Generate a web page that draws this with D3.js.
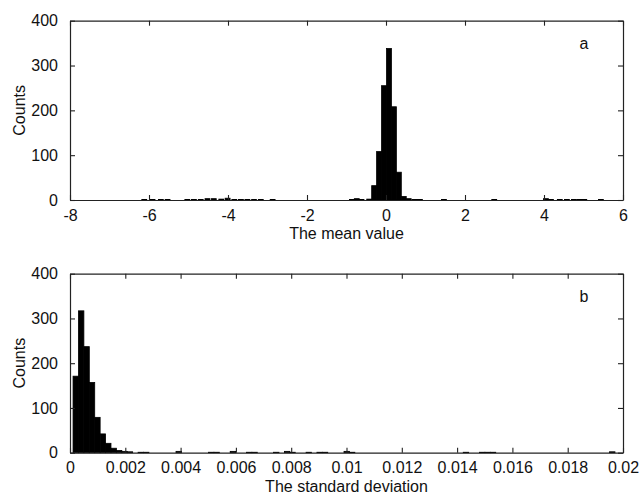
<!DOCTYPE html>
<html>
<head>
<meta charset="utf-8">
<script src="https://cdn.jsdelivr.net/npm/d3@7"></script>
<style>
  body { margin: 0; background: #fff; }
  text { font-family: "Liberation Sans", Arial, sans-serif; fill: #111; }
</style>
</head>
<body>
<svg id="chart" width="639" height="496"></svg>
<script>
// (a) Histogram of the mean values: bin centres and counts
const meanBinWidth = 0.125;
const meanCenters = [-6.12, -5.91, -5.70, -5.53, -5.03, -4.86, -4.69, -4.52, -4.36, -4.17, -4.01,
  -3.84, -3.67, -3.51, -3.34, -3.17, -2.87, -0.86, -0.74, -0.62, -0.425, -0.30, -0.175, -0.05,
  0.075, 0.2, 0.325, 0.45, 0.575, 0.72, 0.86, 1.47, 2.74, 4.05, 4.18, 4.40, 4.58, 4.76, 4.90, 5.02, 5.44];
const meanCounts = [1, 1, 1, 1, 1, 1, 1, 3, 3, 2, 4,
  1, 1, 1, 1, 1, 1, 1, 3, 1, 2, 32, 108, 255,
  338, 208, 62, 8, 3, 1, 1, 1, 1, 3, 1, 1, 1, 1, 1, 1, 1];
const meanTicks = [-8, -6, -4, -2, 0, 2, 4, 6];
const meanDomain = [-8, 6];

// (b) Histogram of the standard deviations: bin centres and counts
const sdBinWidth = 0.000196;
const sdCenters = [0.000208, 0.000404, 0.0006, 0.000796, 0.000992, 0.001188, 0.001384, 0.00158,
  0.001776, 0.001972, 0.002168, 0.00256, 0.002756, 0.003932, 0.005108, 0.005304, 0.005892,
  0.00648, 0.006676, 0.00746, 0.007852, 0.008048, 0.008636, 0.009028, 0.009224, 0.010008,
  0.010204, 0.01432, 0.014908, 0.015104, 0.0153, 0.019612];
const sdCounts = [171, 317, 237, 157, 79, 42, 21, 10,
  5, 3, 2, 1, 1, 3, 1, 1, 3,
  1, 1, 1, 3, 1, 1, 1, 1, 3,
  1, 1, 1, 1, 1, 2];
const sdTicks = [0, 0.002, 0.004, 0.006, 0.008, 0.01, 0.012, 0.014, 0.016, 0.018, 0.02];
const sdTickLabels = ["0", "0.002", "0.004", "0.006", "0.008", "0.01", "0.012", "0.014", "0.016", "0.018", "0.02"];
const sdDomain = [0, 0.02];

const countTicks = [0, 100, 200, 300, 400];
const countDomain = [0, 400];

const svg = d3.select("#chart");
svg.append("rect").attr("width", 639).attr("height", 496).attr("fill", "#fff");

const panels = [
  { top: 20.7, bottom: 200, centers: meanCenters, counts: meanCounts, width: meanBinWidth,
    domain: meanDomain, ticks: meanTicks, tickLabels: meanTicks.map(String),
    xLabel: "The mean value", tag: "a", tagX: 4.9 },
  { top: 273.7, bottom: 452.7, centers: sdCenters, counts: sdCounts, width: sdBinWidth,
    domain: sdDomain, ticks: sdTicks, tickLabels: sdTickLabels,
    xLabel: "The standard deviation", tag: "b", tagX: 0.01843 }
];

const left = 70, right = 623, tickLen = 5;

panels.forEach(p => {
  const x = d3.scaleLinear().domain(p.domain).range([left, right]);
  const y = d3.scaleLinear().domain(countDomain).range([p.bottom, p.top]);
  const g = svg.append("g");

  // bars
  const bins = p.centers.map((c, i) => ({ c, n: p.counts[i] }));
  g.selectAll("rect.bar").data(bins).join("rect")
    .attr("class", "bar")
    .attr("x", d => x(d.c - p.width / 2))
    .attr("width", d => x(d.c + p.width / 2) - x(d.c - p.width / 2))
    .attr("y", d => y(d.n))
    .attr("height", d => y(0) - y(d.n))
    .attr("fill", "#000")
    .attr("stroke", "#000")
    .attr("stroke-width", 0.8);

  // axes (ticks drawn inward on all four sides)
  const axStyle = sel => {
    sel.select(".domain").attr("stroke", "#222").attr("stroke-width", 1.2);
    sel.selectAll(".tick line").attr("stroke", "#222").attr("stroke-width", 1.1);
    sel.selectAll("text").attr("font-size", 16)
      .style("font-family", "'Liberation Sans', Arial, sans-serif").attr("fill", "#111");
  };

  g.append("g").attr("transform", `translate(0,${p.bottom})`)
    .call(d3.axisBottom(x).tickValues(p.ticks).tickFormat((d, i) => p.tickLabels[i])
      .tickSizeInner(-tickLen).tickSizeOuter(0).tickPadding(9))
    .call(axStyle)
    .call(s => s.selectAll("text").attr("dy", "0").attr("y", 20.5));

  g.append("g").attr("transform", `translate(0,${p.top})`)
    .call(d3.axisTop(x).tickValues(p.ticks).tickFormat("").tickSizeInner(-tickLen).tickSizeOuter(0))
    .call(axStyle);

  g.append("g").attr("transform", `translate(${left},0)`)
    .call(d3.axisLeft(y).tickValues(countTicks).tickFormat(d3.format("d"))
      .tickSizeInner(-tickLen).tickSizeOuter(0).tickPadding(12))
    .call(axStyle);

  g.append("g").attr("transform", `translate(${right},0)`)
    .call(d3.axisRight(y).tickValues(countTicks).tickFormat("").tickSizeInner(-tickLen).tickSizeOuter(0))
    .call(axStyle);

  // labels
  g.append("text")
    .attr("x", (left + right) / 2).attr("y", p.bottom + 39)
    .attr("text-anchor", "middle").attr("font-size", 16)
    .text(p.xLabel);

  g.append("text")
    .attr("transform", `translate(25,${(p.top + p.bottom) / 2}) rotate(-90)`)
    .attr("text-anchor", "middle").attr("font-size", 16)
    .text("Counts");

  g.append("text")
    .attr("x", x(p.tagX)).attr("y", y(350)).attr("dy", "0.35em")
    .attr("font-size", 16)
    .text(p.tag);
});
</script>
</body>
</html>
